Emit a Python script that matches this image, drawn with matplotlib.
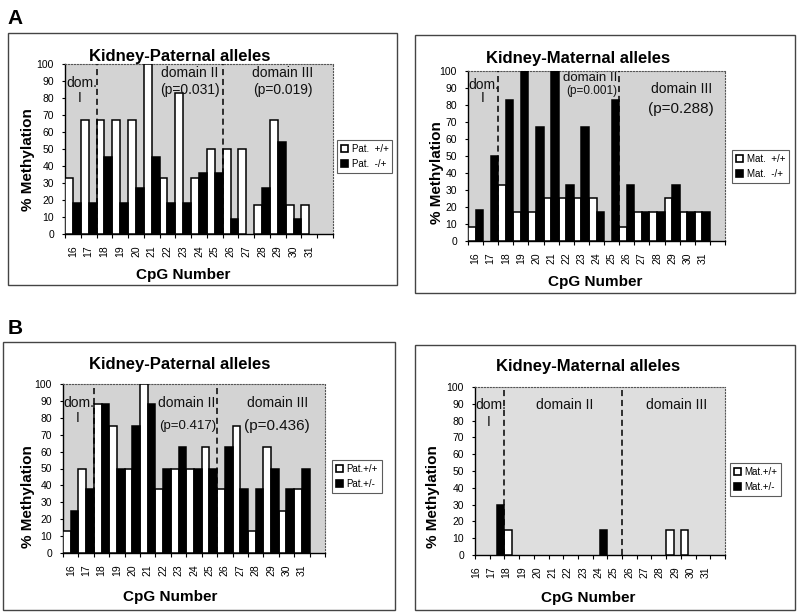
import matplotlib
matplotlib.use("Agg")
import matplotlib.pyplot as plt
from matplotlib.patches import Patch, Rectangle
import numpy as np

plt.rcParams['font.family'] = ['Liberation Sans', 'DejaVu Sans']

cpg = [str(n) for n in range(16, 32)]

# Panel A - paternal
a_pat_wt = [33, 67, 67, 67, 67, 100, 33, 83, 33, 50, 50, 50, 17, 67, 17, 17]
a_pat_mut = [18, 18, 45, 18, 27, 45, 18, 18, 36, 36, 9, 0, 27, 54, 9, 0]
# Panel A - maternal
a_mat_wt = [8, 0, 33, 17, 17, 25, 25, 25, 25, 0, 8, 17, 17, 25, 17, 17]
a_mat_mut = [18, 50, 83, 100, 67, 100, 33, 67, 17, 83, 33, 17, 17, 33, 17, 17]
# Panel B - paternal
b_pat_wt = [13, 50, 88, 75, 50, 100, 38, 50, 50, 63, 38, 75, 13, 63, 25, 38]
b_pat_mut = [25, 38, 88, 50, 75, 88, 50, 63, 50, 50, 63, 38, 38, 50, 38, 50]
# Panel B - maternal
b_mat_wt = [0, 0, 15, 0, 0, 0, 0, 0, 0, 0, 0, 0, 0, 15, 15, 0]
b_mat_mut = [0, 30, 0, 0, 0, 0, 0, 0, 15, 0, 0, 0, 0, 0, 0, 0]

W, H = 800, 614
fig = plt.figure(figsize=(W / 100, H / 100), dpi=100)


def fx(x):
    return x / W


def fy(y):
    return 1 - y / H


def box(x0, y0, x1, y1):
    fig.patches.append(Rectangle((fx(x0), fy(y1)), fx(x1) - fx(x0), fy(y0) - fy(y1),
                                 transform=fig.transFigure, fill=False,
                                 edgecolor='#444444', lw=1.0))


def panel(rect, wt, mut, labels, bg, title, title_xy, ylab_xy, xlab_xy, leg_xy,
          texts, label_pos=None):
    x0, y0, x1, y1 = rect
    ax = fig.add_axes([fx(x0), fy(y1), fx(x1) - fx(x0), fy(y0) - fy(y1)])
    ax.set_facecolor(bg)
    n = len(cpg)
    idx = np.arange(n)
    wt_a = np.array(wt)
    mut_a = np.array(mut)
    mw = wt_a > 0
    mm = mut_a > 0
    ax.bar(idx[mw] - 0.25, wt_a[mw], width=0.5, color='white', edgecolor='black',
           lw=1.1, zorder=3)
    ax.bar(idx[mm] + 0.25, mut_a[mm], width=0.5, color='black', edgecolor='black',
           lw=1.1, zorder=3)
    ax.set_xlim(-0.5, n + 0.5)
    ax.set_ylim(0, 100)
    for xv in (1.5, 9.5):
        ax.axvline(xv, color='black', ls=(0, (4, 2.5)), lw=1.1, zorder=4)
    ax.set_yticks(np.arange(0, 101, 10))
    ax.tick_params(axis='y', labelsize=7.5, length=2, width=0.8, pad=6)
    ax.set_xticks(np.arange(-0.5, n + 0.6, 1))
    ax.set_xticklabels([])
    ax.tick_params(axis='x', which='major', length=3, width=0.8)
    pos = idx if label_pos is None else label_pos
    ax.set_xticks(pos, minor=True)
    ax.set_xticklabels(cpg, minor=True, rotation=90, fontsize=7.5)
    ax.tick_params(axis='x', which='minor', length=0, pad=8)
    for s in ('left', 'bottom'):
        ax.spines[s].set_color('black')
        ax.spines[s].set_linewidth(1.0)
    for s in ('top', 'right'):
        ax.spines[s].set_linestyle(':')
        ax.spines[s].set_color('#555555')
        ax.spines[s].set_linewidth(0.8)
    for (tx, ty, s, fs) in texts:
        ax.text(tx, ty, s, ha='center', va='center', fontsize=fs, color='#111111', zorder=5)
    fig.text(fx(title_xy[0]), fy(title_xy[1]), title, ha='center', va='center',
             fontsize=12, fontweight='bold')
    fig.text(fx(ylab_xy[0]), fy(ylab_xy[1]), '% Methylation', ha='center', va='center',
             rotation=90, fontsize=11, fontweight='bold')
    fig.text(fx(xlab_xy[0]), fy(xlab_xy[1]), 'CpG Number', ha='center', va='center',
             fontsize=11, fontweight='bold')
    handles = [Patch(facecolor='white', edgecolor='black', lw=1.2),
               Patch(facecolor='black', edgecolor='black', lw=1.2)]
    leg = ax.legend(handles, labels, loc='upper left',
                    bbox_to_anchor=(fx(leg_xy[0]), fy(leg_xy[1])),
                    bbox_transform=fig.transFigure, fontsize=7, frameon=True,
                    fancybox=False, handlelength=0.7, handleheight=0.7,
                    handletextpad=0.4, borderpad=0.4, labelspacing=0.5,
                    borderaxespad=0)
    leg.get_frame().set_edgecolor('#333333')
    leg.get_frame().set_linewidth(0.8)
    return ax


# Outer boxes
box(8, 33, 397, 285)
box(415, 35, 795, 293)
box(3, 342, 395, 610)
box(415, 345, 795, 610)

fig.text(fx(15), fy(18), 'A', fontsize=15, fontweight='bold', ha='center', va='center')
fig.text(fx(15), fy(328), 'B', fontsize=15, fontweight='bold', ha='center', va='center')

panel((65, 64, 333, 234), a_pat_wt, a_pat_mut, ['Pat.  +/+', 'Pat.  -/+'], '#d3d3d3',
      'Kidney-Paternal alleles', (180, 56), (28, 160), (183, 275), (337, 140),
      [(0.55, 89, 'dom.', 10), (0.45, 80, 'I', 10),
       (7.4, 94.5, 'domain II', 10), (7.4, 84.5, '(p=0.031)', 10),
       (13.3, 94.5, 'domain III', 10), (13.3, 84.5, '(p=0.019)', 10)])

panel((468, 71, 725, 241), a_mat_wt, a_mat_mut, ['Mat.  +/+', 'Mat.  -/+'], '#d3d3d3',
      'Kidney-Maternal alleles', (578, 59), (437, 173), (595, 282), (732, 150),
      [(0.55, 92, 'dom.', 10), (0.45, 84, 'I', 10),
       (7.6, 96, 'domain II', 9.5), (7.7, 88, '(p=0.001)', 8.5),
       (13.6, 89.5, 'domain III', 10), (13.6, 77.5, '(p=0.288)', 11)])

panel((63, 384, 325, 553), b_pat_wt, b_pat_mut, ['Pat.+/+', 'Pat.+/-'], '#d3d3d3',
      'Kidney-Paternal alleles', (180, 365), (28, 497), (170, 597), (332, 460),
      [(0.55, 89, 'dom.', 10), (0.45, 80, 'I', 10),
       (7.55, 89, 'domain II', 10), (7.6, 75, '(p=0.417)', 9.5),
       (13.4, 89, 'domain III', 10), (13.4, 75, '(p=0.436)', 11)])

panel((475, 387, 725, 555), b_mat_wt, b_mat_mut, ['Mat.+/+', 'Mat.+/-'], '#dedede',
      'Kidney-Maternal alleles', (588, 367), (433, 497), (588, 598), (730, 463),
      [(0.55, 89, 'dom.', 10), (0.45, 79, 'I', 10),
       (5.6, 89, 'domain II', 10),
       (13.2, 89, 'domain III', 10)],
      label_pos=np.linspace(-0.45, 15.2, 16))

fig.savefig('out.png', dpi=100, facecolor='white')
